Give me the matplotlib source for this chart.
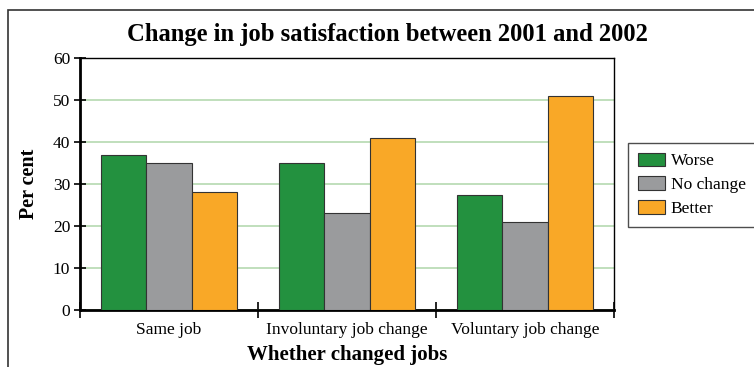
import matplotlib
matplotlib.use("Agg")
import matplotlib.pyplot as plt
import numpy as np
from matplotlib.patches import Rectangle

categories = ["Same job", "Involuntary job change", "Voluntary job change"]
series_names = ["Worse", "No change", "Better"]
worse = [37, 35, 27.5]
no_change = [35, 23, 21]
better = [28, 41, 51]
yticks = [0, 10, 20, 30, 40, 50, 60]

colors = ["#23913F", "#9A9B9D", "#F9A827"]

plt.rcParams['font.family'] = ['Liberation Serif', 'DejaVu Serif']

W, H = 754, 367
fig = plt.figure(figsize=(W/100, H/100), dpi=100)
ax = fig.add_axes([80/W, 1-310/H, (614-80)/W, (310-58)/H])

x = np.arange(len(categories))
bw = 0.253
for i, (vals, name) in enumerate(zip([worse, no_change, better], series_names)):
    ax.bar(x + (i-1)*bw, vals, width=bw, color=colors[i], edgecolor="#333333",
           linewidth=0.8, label=name, zorder=3)

ax.set_xlim(-0.5, 2.5)
ax.set_ylim(0, 60)
ax.set_yticks(yticks)
ax.set_yticklabels([str(t) for t in yticks], fontsize=12.5)
ax.yaxis.grid(True, color="#B5D9B0", linewidth=1.2, zorder=0)
ax.set_axisbelow(True)
ax.tick_params(axis='y', direction='inout', length=8, width=1.2, pad=3)
ax.set_xticks([-0.5, 0.5, 1.5, 2.5])
ax.set_xticklabels([])
ax.tick_params(axis='x', direction='inout', length=12, width=1.2)
ax.set_xticks(x, minor=True)
ax.set_xticklabels(categories, minor=True, fontsize=12.5)
ax.tick_params(axis='x', which='minor', length=0, pad=9)
for s in ax.spines.values():
    s.set_linewidth(1.0)
ax.spines['bottom'].set_linewidth(2.0)
ax.spines['left'].set_linewidth(2.0)

ax.set_ylabel("Per cent", fontsize=14.5, fontweight='bold', labelpad=10)
ax.set_xlabel("Whether changed jobs", fontsize=15, fontweight='bold', labelpad=5)

fig.text(387/W, 1-35/H, "Change in job satisfaction between 2001 and 2002",
         ha='center', va='center', fontsize=17.7, fontweight='bold')

leg = fig.legend(loc='upper left', bbox_to_anchor=(628/W, 1-143/H), fontsize=12.5,
                 frameon=True, fancybox=False, edgecolor='#222222', borderaxespad=0,
                 handlelength=1.6, handleheight=0.85, borderpad=0.55, labelspacing=0.4,
                 handletextpad=0.3)
leg.get_frame().set_linewidth(1.0)

fig.patches.append(Rectangle((8/W, -0.1), 1.2, 1.1-10/H, transform=fig.transFigure,
                             fill=False, edgecolor='#333333', linewidth=1.2))

fig.savefig("out.png", dpi=100)
